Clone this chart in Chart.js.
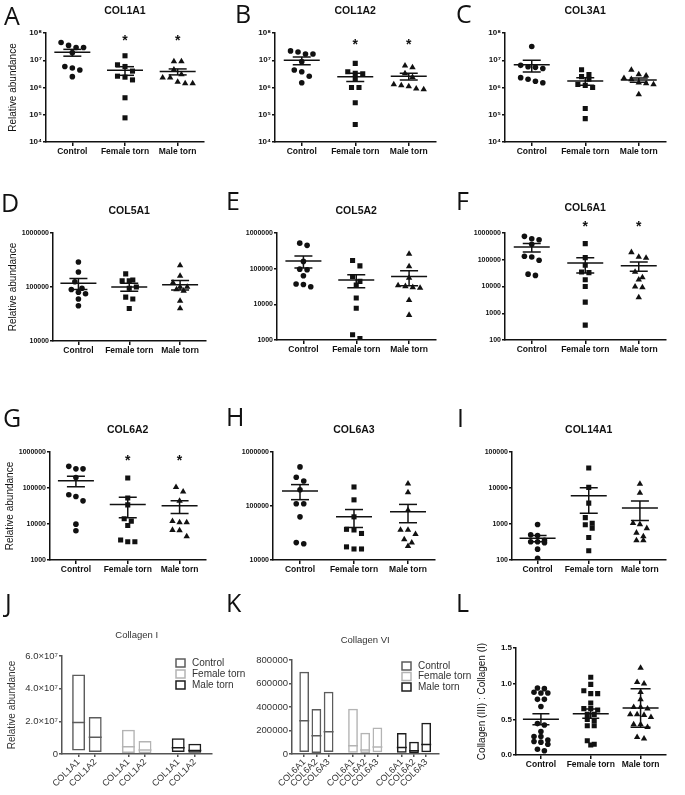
<!DOCTYPE html>
<html>
<head>
<meta charset="utf-8">
<script src="https://cdn.jsdelivr.net/npm/chart.js@4.4.1/dist/chart.umd.min.js"></script>
<style>
  html, body { margin: 0; padding: 0; background: #fff; }
  #page { position: relative; width: 685px; height: 795px; overflow: hidden; background: #fff; }
  #page canvas { position: absolute; }
  .letter { position: absolute; font-family: "Open Sans", sans-serif; font-size: 25px; line-height: 25px; color: #111; }
</style>
</head>
<body>
<div id="page"></div>
<script>
const groups = ["Control", "Female torn", "Male torn"];

// A  COL1A1
const col1a1Control = [4.5e7, 3.5e7, 2.95e7, 2.95e7, 1.9e7, 5.9e6, 5.2e6, 4.4e6, 2.5e6];
const col1a1Female = [1.46e7, 6.8e6, 5.9e6, 4.0e6, 2.6e6, 2.4e6, 1.9e6, 4.2e5, 7.7e4];
const col1a1Male = [9.0e6, 9.0e6, 4.5e6, 3.0e6, 2.3e6, 2.3e6, 1.6e6, 1.4e6, 1.4e6];
const col1a1Mean = [1.96e7, 4.3e6, 3.85e6];
const col1a1Sem = [5.5e6, 1.5e6, 9.5e5];
const col1a1Star = [null, 6.5e7, 6.5e7];

// B  COL1A2
const col1a2Control = [2.2e7, 2.0e7, 1.7e7, 1.7e7, 8.9e6, 4.4e6, 3.8e6, 2.6e6, 1.5e6];
const col1a2Female = [7.7e6, 3.8e6, 3.3e6, 3.2e6, 2.0e6, 1.0e6, 1.0e6, 2.75e5, 4.4e4];
const col1a2Male = [6.3e6, 5.5e6, 3.3e6, 2.4e6, 1.3e6, 1.2e6, 1.1e6, 9.0e5, 8.5e5];
const col1a2Mean = [1.0e7, 2.5e6, 2.6e6];
const col1a2Sem = [3.1e6, 8.5e5, 7.0e5];
const col1a2Star = [null, 4.7e7, 4.7e7];

// C  COL3A1
const col3a1Control = [3.2e7, 6.5e6, 5.8e6, 5.5e6, 5.0e6, 2.3e6, 2.0e6, 1.7e6, 1.5e6];
const col3a1Female = [4.5e6, 3.0e6, 2.5e6, 2.0e6, 1.3e6, 1.2e6, 1.0e6, 1.7e5, 7.2e4];
const col3a1Male = [4.4e6, 3.0e6, 2.7e6, 2.2e6, 2.0e6, 1.5e6, 1.4e6, 1.3e6, 5.6e5];
const col3a1Mean = [6.8e6, 1.75e6, 1.9e6];
const col3a1Sem = [3.1e6, 5.5e5, 3.3e5];

// D  COL5A1
const col5a1Control = [2.9e5, 1.9e5, 1.25e5, 9.5e4, 9.0e4, 8.0e4, 7.5e4, 6.0e4, 4.5e4];
const col5a1Female = [1.75e5, 1.35e5, 1.3e5, 1.3e5, 1.0e5, 9.5e4, 6.5e4, 6.0e4, 4.0e4];
const col5a1Male = [2.5e5, 1.6e5, 1.2e5, 1.0e5, 1.0e5, 9.0e4, 8.5e4, 5.5e4, 4.0e4];
const col5a1Mean = [1.17e5, 1.0e5, 1.1e5];
const col5a1Sem = [2.7e4, 1.7e4, 2.2e4];

// E  COL5A2
const col5a2Control = [5.2e5, 4.5e5, 1.6e5, 9.7e4, 9.3e4, 6.3e4, 3.7e4, 3.6e4, 3.1e4];
const col5a2Female = [1.7e5, 1.2e5, 6.0e4, 4.4e4, 3.5e4, 1.5e4, 7.8e3, 1.4e3, 1.1e3];
const col5a2Male = [2.6e5, 1.15e5, 5.5e4, 3.4e4, 3.2e4, 3.0e4, 2.9e4, 1.3e4, 5.0e3];
const col5a2Mean = [1.65e5, 4.8e4, 6.0e4];
const col5a2Sem = [6.0e4, 1.9e4, 2.7e4];

// F  COL6A1
const col6a1Control = [7.5e5, 6.1e5, 5.6e5, 3.8e5, 1.35e5, 1.27e5, 9.6e4, 2.9e4, 2.6e4];
const col6a1Female = [4.0e5, 1.2e5, 6.2e4, 3.5e4, 3.3e4, 1.8e4, 1.0e4, 2.6e3, 360];
const col6a1Male = [1.9e5, 1.27e5, 1.17e5, 3.5e4, 2.2e4, 1.8e4, 9.8e3, 9.3e3, 3.9e3];
const col6a1Mean = [3.0e5, 7.6e4, 6.0e4];
const col6a1Sem = [1.05e5, 4.4e4, 2.3e4];
const col6a1Star = [null, 2.2e6, 2.2e6];

// G  COL6A2
const col6a2Control = [4.0e5, 3.4e5, 3.4e5, 1.96e5, 6.5e4, 5.8e4, 4.4e4, 9.9e3, 6.5e3];
const col6a2Female = [1.9e5, 5.3e4, 3.4e4, 1.4e4, 1.2e4, 9.1e3, 3.6e3, 3.2e3, 3.2e3];
const col6a2Male = [1.05e5, 7.9e4, 4.4e4, 1.2e4, 1.1e4, 1.1e4, 6.8e3, 6.6e3, 4.5e3];
const col6a2Mean = [1.6e5, 3.5e4, 3.2e4];
const col6a2Sem = [5.2e4, 2.0e4, 1.25e4];
const col6a2Star = [null, 6.8e5, 6.8e5];

// H  COL6A3
const col6a3Control = [5.3e5, 3.4e5, 2.9e5, 2.0e5, 1.1e5, 1.1e5, 6.3e4, 2.1e4, 2.0e4];
const col6a3Female = [2.25e5, 1.3e5, 6.3e4, 3.7e4, 3.6e4, 3.1e4, 1.75e4, 1.6e4, 1.6e4];
const col6a3Male = [2.6e5, 1.78e5, 8.4e4, 3.6e4, 3.6e4, 3.0e4, 2.4e4, 2.1e4, 1.8e4];
const col6a3Mean = [1.9e5, 6.3e4, 7.8e4];
const col6a3Sem = [5.9e4, 2.3e4, 2.9e4];

// I  COL14A1
const col14a1Control = [970, 500, 480, 350, 320, 320, 300, 200, 112];
const col14a1Female = [3.6e4, 1.04e4, 3.8e3, 1.5e3, 1.05e3, 950, 770, 420, 180];
const col14a1Male = [1.3e4, 7.3e3, 1.05e3, 980, 760, 570, 450, 350, 350];
const col14a1Mean = [400, 6.1e3, 2.8e3];
const col14a1Sem = [78, 4.1e3, 1.55e3];

// J  Collagen I (min, max) and mean
const col1Genes = ["COL1A1", "COL1A2"];
const col1ControlRange = [[2.2e6, 4.86e7], [1.2e6, 2.26e7]];
const col1ControlMean = [1.93e7, 1.02e7];
const col1FemaleRange = [[6.0e5, 1.48e7], [4.0e5, 7.9e6]];
const col1FemaleMean = [4.5e6, 2.4e6];
const col1MaleRange = [[1.2e6, 9.6e6], [8.0e5, 6.3e6]];
const col1MaleMean = [3.9e6, 2.2e6];

// K  Collagen VI (min, max) and mean
const col6Genes = ["COL6A1", "COL6A2", "COL6A3"];
const col6ControlRange = [[1.7e4, 7.0e5], [8.0e3, 3.84e5], [1.7e4, 5.3e5]];
const col6ControlMean = [2.83e5, 1.55e5, 1.9e5];
const col6FemaleRange = [[1.0e4, 3.85e5], [8.0e3, 1.8e5], [1.5e4, 2.25e5]];
const col6FemaleMean = [7.0e4, 3.5e4, 6.0e4];
const col6MaleRange = [[1.0e4, 1.78e5], [8.0e3, 1.05e5], [1.5e4, 2.65e5]];
const col6MaleMean = [5.5e4, 2.8e4, 8.0e4];

// L  Collagen (III) : Collagen (I)
const ratioControl = [0.94, 0.93, 0.88, 0.87, 0.87, 0.78, 0.78, 0.68, 0.44, 0.42, 0.33, 0.26, 0.26, 0.21, 0.19, 0.18, 0.15, 0.08, 0.06];
const ratioFemale = [1.09, 0.99, 0.9, 0.86, 0.86, 0.73, 0.65, 0.65, 0.63, 0.57, 0.57, 0.5, 0.48, 0.41, 0.41, 0.2, 0.15, 0.14];
const ratioMale = [1.22, 1.02, 1.0, 0.88, 0.78, 0.67, 0.67, 0.65, 0.57, 0.57, 0.56, 0.53, 0.43, 0.43, 0.39, 0.25, 0.23];
const ratioMean = [0.5, 0.58, 0.66];
const ratioErr = [0.077, 0.066, 0.27];

const FONT = '"Liberation Sans", Arial, sans-serif';
Chart.defaults.font.family = FONT;
Chart.defaults.color = "#111";

const page = document.getElementById("page");
const sup = "⁰¹²³⁴⁵⁶⁷⁸⁹";

function powLabel(v) {
  const e = Math.round(Math.log10(v));
  return "10" + String(e).split("").map((d) => sup[+d]).join("");
}

function makeCanvas(box) {
  const c = document.createElement("canvas");
  c.width = box.w;
  c.height = box.h;
  c.style.left = box.x + "px";
  c.style.top = box.y + "px";
  c.style.width = box.w + "px";
  c.style.height = box.h + "px";
  page.appendChild(c);
  return c;
}

// spread points that sit at about the same height, like a column scatter
function beeswarm(values, unit, near, step) {
  const order = values.map((v, i) => i).sort((a, b) => values[b] - values[a]);
  const offsets = values.map(() => 0);
  let row = [];
  let rowStart = null;
  const flush = () => {
    row.forEach((idx, j) => { offsets[idx] = (j - (row.length - 1) / 2) * step; });
  };
  order.forEach((idx) => {
    const u = unit(values[idx]);
    if (rowStart === null || Math.abs(rowStart - u) >= near) {
      flush();
      row = [];
      rowStart = u;
    }
    row.push(idx);
  });
  flush();
  return offsets;
}

function textPlugin(p) {
  return {
    id: "panelText",
    afterDraw(chart) {
      const { ctx, chartArea, scales } = chart;
      ctx.save();
      ctx.fillStyle = p.textColor || "#111";
      ctx.textAlign = "center";
      ctx.textBaseline = "middle";
      if (p.title) {
        ctx.font = p.titleFont || "bold 10.5px " + FONT;
        ctx.fillText(p.title, (chartArea.left + chartArea.right) / 2, chartArea.top - (p.titleGap || 22));
      }
      if (p.stars) {
        ctx.font = "bold 14px " + FONT;
        p.stars.forEach((v, g) => {
          if (v == null) return;
          ctx.fillText("*", scales.x.getPixelForValue(g), scales.y.getPixelForValue(v) + 3);
        });
      }
      if (p.legend) {
        ctx.textAlign = "left";
        ctx.font = "10px " + FONT;
        chart.data.datasets.filter((d) => d.label).forEach((d, i) => {
          const y = p.legend.y + i * p.legend.gap;
          ctx.strokeStyle = d.borderColor;
          ctx.lineWidth = 1.5;
          ctx.strokeRect(p.legend.x, y - 4, 9, 8);
          ctx.fillStyle = "#333";
          ctx.fillText(d.label, p.legend.x + 16, y);
        });
      }
      ctx.restore();
    },
  };
}

function dotPanel(p) {
  const canvas = makeCanvas(p.box);
  const log = !p.linear;
  const unit = log ? Math.log10 : (v) => v;
  const plotH = p.plot.bottom - p.plot.top;
  const plotW = p.plot.right - p.plot.left;
  const near = ((unit(p.max) - unit(p.min)) * (p.nearPx || 6.5)) / plotH;
  const step = (7.5 * 3) / plotW;
  const shapes = ["circle", "rect", "triangle"];
  const sizes = [2.8, 3.6, 3.7];

  const datasets = p.series.map((vals, g) => {
    const off = beeswarm(vals, unit, near, step);
    return {
      type: "scatter",
      data: vals.map((v, i) => ({ x: g + off[i], y: v })),
      pointStyle: shapes[g],
      pointRadius: sizes[g],
      pointBackgroundColor: "#111",
      pointBorderWidth: 0,
    };
  });

  const errPts = [];
  const capR = [];
  p.mean.forEach((m, g) => {
    errPts.push({ x: g, y: m + p.err[g] }, { x: g, y: m - p.err[g] }, { x: g, y: null });
    const r = p.caps ? p.caps[g] : 9;
    capR.push(r, r, 0);
  });
  datasets.push({
    type: "line",
    data: errPts,
    showLine: true,
    spanGaps: false,
    borderColor: "#111",
    borderWidth: 1.5,
    pointStyle: "line",
    pointRadius: capR,
    pointBorderColor: "#111",
    pointBorderWidth: 1.5,
  });
  datasets.push({
    type: "scatter",
    data: p.mean.map((m, g) => ({ x: g, y: m })),
    pointStyle: "line",
    pointRadius: 18,
    pointBorderColor: "#111",
    pointBorderWidth: 1.5,
  });

  const yw = p.plot.left - p.box.x;
  const xh = p.box.y + p.box.h - p.plot.bottom;

  const yScale = {
    type: log ? "logarithmic" : "linear",
    min: p.min,
    max: p.max,
    afterFit: (ax) => { ax.width = yw; },
    ticks: {
      font: { size: p.pow ? 8 : (log ? 7 : 8), weight: "bold" },
      color: "#111",
      padding: 1,
      callback: (v) => (log ? (p.pow ? powLabel(v) : String(v)) : Number(v).toFixed(1)),
    },
    grid: { drawOnChartArea: false, drawTicks: true, tickLength: 3, color: "#111", lineWidth: 1.5 },
    border: { display: true, color: "#111", width: 1.5 },
    title: {
      display: !!p.yTitle,
      text: p.yTitle || "",
      font: { size: 10 },
      color: "#111",
      padding: { top: p.yTitlePad || 7, bottom: 0 },
    },
  };
  if (log) {
    yScale.afterBuildTicks = (ax) => {
      const t = [];
      for (let e = Math.round(Math.log10(p.min)); e <= Math.round(Math.log10(p.max)); e++) t.push({ value: Math.pow(10, e) });
      ax.ticks = t;
    };
  } else {
    yScale.ticks.stepSize = p.stepSize;
  }

  new Chart(canvas, {
    type: "scatter",
    data: { datasets },
    options: {
      responsive: false,
      animation: false,
      layout: { padding: { left: 0, bottom: 0, top: p.plot.top - p.box.y, right: p.box.x + p.box.w - p.plot.right } },
      plugins: { legend: { display: false }, tooltip: { enabled: false } },
      scales: {
        x: {
          type: "linear",
          min: -0.5,
          max: 2.5,
          afterBuildTicks: (ax) => { ax.ticks = groups.map((_, i) => ({ value: i })); },
          afterFit: (ax) => { ax.height = xh; },
          ticks: { callback: (v) => groups[v], font: { size: 8.5, weight: "bold" }, color: "#111", padding: 1, maxRotation: 0, autoSkip: false },
          grid: { drawOnChartArea: false, drawTicks: true, tickLength: 4, color: "#111", lineWidth: 1.5 },
          border: { display: true, color: "#111", width: 1.5 },
        },
        y: yScale,
      },
    },
    plugins: [textPlugin(p)],
  });
}

function barPanel(p) {
  const canvas = makeCanvas(p.box);
  const n = p.genes.length;
  const labels = [""];
  groups.forEach(() => { labels.push(...p.genes, ""); });
  const place = (vals, g) => {
    const out = labels.map(() => null);
    vals.forEach((v, k) => { out[1 + g * (n + 1) + k] = v; });
    return out;
  };
  const colors = ["#5c5c5c", "#b4b4b4", "#1c1c1c"];
  const datasets = [];
  p.ranges.forEach((r, g) => {
    datasets.push({
      label: groups[g],
      data: place(r, g),
      borderColor: colors[g],
      backgroundColor: "rgba(0,0,0,0)",
      borderWidth: 1.5,
      borderSkipped: false,
      grouped: false,
      barPercentage: p.barPct,
      categoryPercentage: 1,
    });
  });
  p.means.forEach((m, g) => {
    datasets.push({
      type: "line",
      data: place(m, g),
      showLine: false,
      pointStyle: "line",
      pointRadius: p.meanR,
      pointBorderColor: colors[g],
      pointBorderWidth: 1.5,
    });
  });

  const yw = p.plot.left - p.box.x;
  const xh = p.box.y + p.box.h - p.plot.bottom;
  const axisColor = "#555";

  new Chart(canvas, {
    type: "bar",
    data: { labels, datasets },
    options: {
      responsive: false,
      animation: false,
      layout: { padding: { left: 0, bottom: 0, top: p.plot.top - p.box.y, right: p.box.x + p.box.w - p.plot.right } },
      plugins: { legend: { display: false }, tooltip: { enabled: false } },
      scales: {
        x: {
          type: "category",
          offset: false,
          afterFit: (ax) => { ax.height = xh; },
          ticks: { font: { size: 9 }, color: "#333", padding: 0, minRotation: 45, maxRotation: 45, autoSkip: false },
          grid: {
            offset: false,
            drawOnChartArea: false,
            drawTicks: true,
            tickLength: 3,
            lineWidth: 1.5,
            color: (ctx) => (labels[ctx.index] ? axisColor : "rgba(0,0,0,0)"),
          },
          border: { display: true, color: axisColor, width: 1.5 },
        },
        y: {
          min: 0,
          max: p.max,
          afterFit: (ax) => { ax.width = yw; },
          ticks: { stepSize: p.stepSize, font: { size: 9.5 }, color: "#333", padding: 1, callback: p.tickLabel },
          grid: { drawOnChartArea: false, drawTicks: true, tickLength: 3, color: axisColor, lineWidth: 1.5 },
          border: { display: true, color: axisColor, width: 1.5 },
          title: {
            display: !!p.yTitle,
            text: p.yTitle || "",
            font: { size: 10 },
            color: "#333",
            padding: { top: p.yTitlePad || 6, bottom: 0 },
          },
        },
      },
    },
    plugins: [textPlugin(p)],
  });
}

const dotPanels = [
  { title: "COL1A1", box: { x: 0, y: 0, w: 225, h: 190 }, plot: { left: 46, top: 33, right: 204, bottom: 142 }, min: 1e4, max: 1e8, pow: true,
    series: [col1a1Control, col1a1Female, col1a1Male], mean: col1a1Mean, err: col1a1Sem, stars: col1a1Star, yTitle: "Relative abundance", yTitlePad: 7 },
  { title: "COL1A2", box: { x: 225, y: 0, w: 230, h: 190 }, plot: { left: 275, top: 33, right: 436, bottom: 142 }, min: 1e4, max: 1e8, pow: true,
    series: [col1a2Control, col1a2Female, col1a2Male], mean: col1a2Mean, err: col1a2Sem, stars: col1a2Star },
  { title: "COL3A1", box: { x: 455, y: 0, w: 230, h: 190 }, plot: { left: 505, top: 33, right: 668, bottom: 142 }, min: 1e4, max: 1e8, pow: true,
    series: [col3a1Control, col3a1Female, col3a1Male], mean: col3a1Mean, err: col3a1Sem },
  { title: "COL5A1", box: { x: 0, y: 190, w: 225, h: 200 }, plot: { left: 53, top: 233, right: 214, bottom: 341 }, min: 1e4, max: 1e6,
    series: [col5a1Control, col5a1Female, col5a1Male], mean: col5a1Mean, err: col5a1Sem, yTitle: "Relative abundance", yTitlePad: 7 },
  { title: "COL5A2", box: { x: 225, y: 190, w: 230, h: 200 }, plot: { left: 277, top: 233, right: 439, bottom: 340 }, min: 1e3, max: 1e6,
    series: [col5a2Control, col5a2Female, col5a2Male], mean: col5a2Mean, err: col5a2Sem },
  { title: "COL6A1", box: { x: 455, y: 190, w: 230, h: 200 }, plot: { left: 505, top: 233, right: 669, bottom: 340 }, min: 1e2, max: 1e6, titleGap: 25,
    series: [col6a1Control, col6a1Female, col6a1Male], mean: col6a1Mean, err: col6a1Sem, stars: col6a1Star },
  { title: "COL6A2", box: { x: 0, y: 395, w: 225, h: 185 }, plot: { left: 50, top: 452, right: 214, bottom: 560 }, min: 1e3, max: 1e6,
    series: [col6a2Control, col6a2Female, col6a2Male], mean: col6a2Mean, err: col6a2Sem, stars: col6a2Star, yTitle: "Relative abundance", yTitlePad: 4 },
  { title: "COL6A3", box: { x: 225, y: 395, w: 230, h: 185 }, plot: { left: 273, top: 452, right: 435, bottom: 560 }, min: 1e4, max: 1e6,
    series: [col6a3Control, col6a3Female, col6a3Male], mean: col6a3Mean, err: col6a3Sem },
  { title: "COL14A1", box: { x: 455, y: 395, w: 230, h: 185 }, plot: { left: 512, top: 452, right: 679, bottom: 560 }, min: 1e2, max: 1e5,
    series: [col14a1Control, col14a1Female, col14a1Male], mean: col14a1Mean, err: col14a1Sem },
  { box: { x: 455, y: 580, w: 230, h: 215 }, plot: { left: 516, top: 648, right: 678, bottom: 755 }, min: 0, max: 1.5, linear: true, stepSize: 0.5,
    series: [ratioControl, ratioFemale, ratioMale], mean: ratioMean, err: ratioErr, caps: [8.5, 8.5, 10], nearPx: 4,
    yTitle: "Collagen (III) : Collagen (I)", yTitlePad: 21 },
];
dotPanels.forEach(dotPanel);

barPanel({
  title: "Collagen I", titleFont: "9.5px " + FONT, titleGap: 21, textColor: "#333",
  box: { x: 0, y: 580, w: 260, h: 215 }, plot: { left: 62, top: 656, right: 211.4, bottom: 754 },
  genes: col1Genes, ranges: [col1ControlRange, col1FemaleRange, col1MaleRange], means: [col1ControlMean, col1FemaleMean, col1MaleMean],
  max: 6e7, stepSize: 2e7, barPct: 0.78, meanR: 6.5,
  tickLabel: (v) => (v === 0 ? "0" : (v / 1e7).toFixed(1) + "×10⁷"),
  yTitle: "Relative abundance", yTitlePad: 6,
  legend: { x: 176, y: 83, gap: 11 },
});

barPanel({
  title: "Collagen VI", titleFont: "9.5px " + FONT, titleGap: 20, textColor: "#333",
  box: { x: 225, y: 580, w: 255, h: 215 }, plot: { left: 292, top: 660, right: 438.4, bottom: 754 },
  genes: col6Genes, ranges: [col6ControlRange, col6FemaleRange, col6MaleRange], means: [col6ControlMean, col6FemaleMean, col6MaleMean],
  max: 8e5, stepSize: 2e5, barPct: 0.8, meanR: 5,
  tickLabel: (v) => String(v),
  legend: { x: 177, y: 86, gap: 10.5 },
});

const letters = [
  ["A", 4, 25], ["B", 235, 23], ["C", 456, 23],
  ["D", 1, 212], ["E", 226, 210], ["F", 456, 210],
  ["G", 3, 427], ["H", 226, 426], ["I", 457, 427],
  ["J", 5, 612], ["K", 226, 612], ["L", 456, 612],
];
letters.forEach(([t, x, base]) => {
  const d = document.createElement("div");
  d.className = "letter";
  d.textContent = t;
  d.style.left = x + "px";
  d.style.top = base - 22 + "px";
  page.appendChild(d);
});
</script>
</body>
</html>
